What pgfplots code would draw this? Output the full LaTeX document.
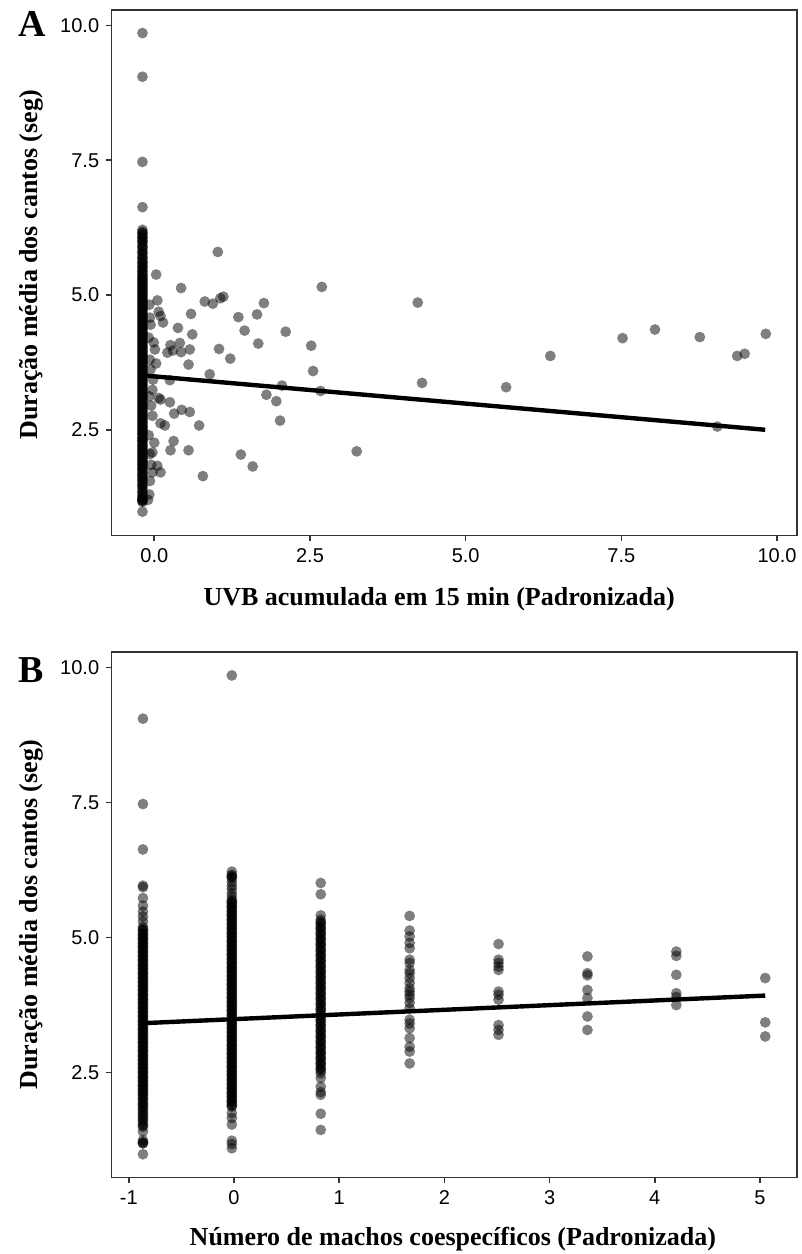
\documentclass[border=0pt]{standalone}
\usepackage{fontspec}
\setmainfont{Liberation Serif}
\newfontfamily\ticksans{Liberation Sans}
\usepackage{pgfplots}
\pgfplotsset{compat=1.18}
\definecolor{axgray}{HTML}{333333}
\newcommand{\labfont}{\fontsize{13}{15}\selectfont\bfseries}
\pgfplotsset{
  panel/.style={
    anchor=south west, scale only axis, width=342.5pt, height=262.9pt,
    axis line style={axgray, line width=0.8pt},
    tick style={axgray, line width=0.8pt},
    tick align=outside, tick pos=left, major tick length=2.75pt,
    tick label style={font=\fontsize{10}{12}\selectfont\ticksans, text=black},
    ytick={2.5,5,7.5,10}, yticklabels={2.5,5.0,7.5,10.0},
    every axis y label/.style={at={(axis description cs:0,0.5)}, xshift=-40pt, rotate=90, anchor=center, font=\labfont},
  },
  pts/.style={only marks, mark=*, mark size=2.7pt, mark options={fill=black, fill opacity=0.5, draw opacity=0, line width=0pt}},
}
\begin{document}
\begin{tikzpicture}
\useasboundingbox (0,0) rectangle (401pt,627pt);
\node[anchor=base west, inner sep=0pt, font=\fontsize{19}{21}\selectfont\bfseries] at (9pt,608.5pt) {A};
\node[anchor=base west, inner sep=0pt, font=\fontsize{19}{21}\selectfont\bfseries] at (9pt,285.5pt) {B};
% ---------------- Panel A ----------------
\begin{axis}[panel, at={(55.85pt,359.15pt)},
  xmin=-0.684, xmax=10.316, ymin=0.535, ymax=10.29,
  xtick={0,2.5,5,7.5,10}, xticklabels={0.0,2.5,5.0,7.5,10.0},
  every axis y label/.append style={at={(axis description cs:0,0.515)}},
  xlabel={UVB acumulada em 15 min (Padronizada)},
  ylabel={Duração média dos cantos (seg)},
  every axis x label/.style={at={(axis description cs:0.478,0)}, yshift=-34.7pt, anchor=base, font=\labfont},
]
\addplot[pts] coordinates {
(-0.19,0.98)(-0.19,1.16)(-0.19,1.18)(-0.19,1.20)(-0.19,1.22)(-0.19,1.27)(-0.19,1.31)(-0.19,1.36)(-0.19,1.41)(-0.19,1.44)
(-0.19,1.49)(-0.19,1.53)(-0.19,1.56)(-0.19,1.61)(-0.19,1.64)(-0.19,1.68)(-0.19,1.71)(-0.19,1.75)(-0.19,1.79)(-0.19,1.82)
(-0.19,1.86)(-0.19,1.89)(-0.19,1.93)(-0.19,1.96)(-0.19,2.00)(-0.19,2.03)(-0.19,2.07)(-0.19,2.09)(-0.19,2.12)(-0.19,2.16)
(-0.19,2.19)(-0.19,2.23)(-0.19,2.27)(-0.19,2.30)(-0.19,2.33)(-0.19,2.37)(-0.19,2.41)(-0.19,2.44)(-0.19,2.47)(-0.19,2.51)
(-0.19,2.54)(-0.19,2.58)(-0.19,2.61)(-0.19,2.65)(-0.19,2.68)(-0.19,2.72)(-0.19,2.75)(-0.19,2.79)(-0.19,2.82)(-0.19,2.86)
(-0.19,2.89)(-0.19,2.93)(-0.19,2.96)(-0.19,3.00)(-0.19,3.03)(-0.19,3.07)(-0.19,3.10)(-0.19,3.14)(-0.19,3.17)(-0.19,3.21)
(-0.19,3.24)(-0.19,3.28)(-0.19,3.31)(-0.19,3.35)(-0.19,3.38)(-0.19,3.42)(-0.19,3.45)(-0.19,3.49)(-0.19,3.52)(-0.19,3.56)
(-0.19,3.59)(-0.19,3.63)(-0.19,3.66)(-0.19,3.70)(-0.19,3.73)(-0.19,3.77)(-0.19,3.80)(-0.19,3.84)(-0.19,3.87)(-0.19,3.91)
(-0.19,3.94)(-0.19,3.98)(-0.19,4.01)(-0.19,4.05)(-0.19,4.08)(-0.19,4.12)(-0.19,4.15)(-0.19,4.19)(-0.19,4.22)(-0.19,4.26)
(-0.19,4.29)(-0.19,4.33)(-0.19,4.36)(-0.19,4.40)(-0.19,4.43)(-0.19,4.47)(-0.19,4.50)(-0.19,4.54)(-0.19,4.57)(-0.19,4.61)
(-0.19,4.64)(-0.19,4.68)(-0.19,4.71)(-0.19,4.75)(-0.19,4.78)(-0.19,4.82)(-0.19,4.85)(-0.19,4.89)(-0.19,4.92)(-0.19,4.96)
(-0.19,4.99)(-0.19,5.03)(-0.19,5.06)(-0.19,5.10)(-0.19,5.13)(-0.19,5.17)(-0.19,5.20)(-0.19,5.24)(-0.19,5.27)(-0.19,5.31)
(-0.19,5.34)(-0.19,5.38)(-0.19,5.42)(-0.19,5.46)(-0.19,5.50)(-0.19,5.54)(-0.19,5.58)(-0.19,5.62)(-0.19,5.67)(-0.19,5.72)
(-0.19,5.77)(-0.19,5.82)(-0.19,5.87)(-0.19,5.92)(-0.19,5.97)(-0.19,6.01)(-0.19,6.05)(-0.19,6.09)(-0.19,6.13)(-0.19,6.17)
(-0.19,6.21)(-0.19,6.63)(-0.19,7.47)(-0.19,9.05)(-0.19,9.86)
(-0.08,4.82)(-0.07,4.58)(-0.06,4.45)(-0.09,4.21)(-0.07,3.80)(-0.06,3.62)(-0.08,3.12)(-0.05,2.95)(-0.09,2.40)(-0.07,2.05)(-0.05,1.85)(-0.08,1.30)
(0.43,5.13)(2.69,5.15)(0.05,4.90)(0.81,4.88)(0.94,4.84)(1.06,4.94)(1.11,4.97)(1.76,4.85)(0.07,4.69)(0.10,4.61)
(0.14,4.49)(0.59,4.65)(1.35,4.59)(1.65,4.64)(0.38,4.39)(0.61,4.27)(1.45,4.34)(2.11,4.32)(-0.01,4.12)(0.01,3.99)
(0.26,4.07)(0.21,3.93)(0.30,3.97)(0.41,4.11)(0.43,3.94)(0.57,3.99)(1.04,4.00)(1.67,4.10)(2.52,4.06)(1.22,3.82)
(0.03,3.73)(0.55,3.71)(2.55,3.59)(0.89,3.53)(0.25,3.42)(-0.02,3.43)(2.05,3.32)(2.67,3.22)(-0.03,3.24)(0.07,3.09)
(0.10,3.06)(0.25,3.01)(1.80,3.15)(1.96,3.03)(0.44,2.87)(0.32,2.80)(0.57,2.83)(-0.03,2.76)(0.10,2.62)(0.17,2.58)
(2.02,2.67)(0.72,2.58)(0.00,2.26)(0.31,2.29)(0.26,2.12)(-0.03,2.08)(0.55,2.12)(3.25,2.10)(1.39,2.04)(1.58,1.82)
(0.05,1.83)(0.10,1.71)(-0.03,1.71)(0.78,1.64)(-0.07,1.55)(-0.10,1.20)(0.03,5.38)(1.02,5.80)
(4.23,4.86)(4.30,3.37)(5.65,3.29)(6.36,3.87)(7.52,4.20)(8.04,4.36)(8.76,4.22)(9.04,2.56)(9.36,3.87)(9.48,3.91)(9.82,4.28)
};
\addplot[pts] coordinates {
(-0.19,1.19)(-0.19,1.25)(-0.19,1.34)(-0.19,1.47)(-0.19,1.58)(-0.19,1.66)(-0.19,1.77)(-0.19,1.84)(-0.19,1.91)(-0.19,1.98)
(-0.19,2.05)(-0.19,2.14)(-0.19,2.21)(-0.19,2.29)(-0.19,2.35)(-0.19,2.43)(-0.19,2.50)(-0.19,2.56)(-0.19,2.63)(-0.19,2.70)
(-0.19,2.77)(-0.19,2.84)(-0.19,2.91)(-0.19,2.98)(-0.19,3.05)(-0.19,3.12)(-0.19,3.19)(-0.19,3.26)(-0.19,3.33)(-0.19,3.40)
(-0.19,3.47)(-0.19,3.54)(-0.19,3.61)(-0.19,3.68)(-0.19,3.75)(-0.19,3.82)(-0.19,3.89)(-0.19,3.96)(-0.19,4.03)(-0.19,4.10)
(-0.19,4.17)(-0.19,4.24)(-0.19,4.31)(-0.19,4.38)(-0.19,4.45)(-0.19,4.52)(-0.19,4.59)(-0.19,4.66)(-0.19,4.73)(-0.19,4.80)
(-0.19,4.87)(-0.19,4.94)(-0.19,5.01)(-0.19,5.08)(-0.19,5.15)(-0.19,5.22)(-0.19,5.29)(-0.19,5.36)(-0.19,5.44)(-0.19,5.52)
(-0.19,5.60)(-0.19,5.69)(-0.19,5.79)(-0.19,5.89)(-0.19,5.99)(-0.19,6.07)(-0.19,6.15)
};
\addplot[black, line width=2.2pt] coordinates {(-0.19,3.51) (9.81,2.50)};
\end{axis}
% ---------------- Panel B ----------------
\begin{axis}[panel, at={(55.85pt,38.15pt)},
  xmin=-1.162, xmax=5.349, ymin=0.556, ymax=10.285,
  xtick={-1,0,1,2,3,4,5}, xticklabels={-1,0,1,2,3,4,5},
  xlabel={Número de machos coespecíficos (Padronizada)},
  ylabel={Duração média dos cantos (seg)},
  every axis x label/.style={at={(axis description cs:0.498,0)}, yshift=-33.7pt, anchor=base, font=\labfont},
]
\addplot[pts] coordinates {
(-0.865,0.99)(-0.865,1.19)(-0.865,1.21)(-0.865,1.25)(-0.865,1.41)(-0.865,1.50)(-0.865,1.55)(-0.865,1.60)(-0.865,1.66)(-0.865,1.70)
(-0.865,1.76)(-0.865,1.80)(-0.865,1.86)(-0.865,1.90)(-0.865,1.95)(-0.865,1.99)(-0.865,2.04)(-0.865,2.08)(-0.865,2.12)(-0.865,2.16)
(-0.865,2.20)(-0.865,2.24)(-0.865,2.28)(-0.865,2.32)(-0.865,2.36)(-0.865,2.40)(-0.865,2.44)(-0.865,2.48)(-0.865,2.52)(-0.865,2.56)
(-0.865,2.60)(-0.865,2.64)(-0.865,2.68)(-0.865,2.72)(-0.865,2.76)(-0.865,2.80)(-0.865,2.84)(-0.865,2.88)(-0.865,2.92)(-0.865,2.96)
(-0.865,3.00)(-0.865,3.04)(-0.865,3.08)(-0.865,3.12)(-0.865,3.16)(-0.865,3.20)(-0.865,3.24)(-0.865,3.28)(-0.865,3.32)(-0.865,3.36)
(-0.865,3.40)(-0.865,3.44)(-0.865,3.48)(-0.865,3.52)(-0.865,3.56)(-0.865,3.60)(-0.865,3.64)(-0.865,3.68)(-0.865,3.72)(-0.865,3.76)
(-0.865,3.80)(-0.865,3.84)(-0.865,3.88)(-0.865,3.92)(-0.865,3.96)(-0.865,4.00)(-0.865,4.04)(-0.865,4.08)(-0.865,4.12)(-0.865,4.16)
(-0.865,4.20)(-0.865,4.24)(-0.865,4.28)(-0.865,4.32)(-0.865,4.36)(-0.865,4.40)(-0.865,4.44)(-0.865,4.48)(-0.865,4.52)(-0.865,4.56)
(-0.865,4.60)(-0.865,4.64)(-0.865,4.68)(-0.865,4.72)(-0.865,4.76)(-0.865,4.80)(-0.865,4.84)(-0.865,4.88)(-0.865,4.92)(-0.865,4.96)
(-0.865,5.00)(-0.865,5.04)(-0.865,5.08)(-0.865,5.12)(-0.865,5.16)(-0.865,5.20)(-0.865,5.30)(-0.865,5.39)(-0.865,5.48)(-0.865,5.59)
(-0.865,5.73)(-0.865,5.93)(-0.865,5.96)(-0.865,6.63)(-0.865,7.47)(-0.865,9.05)
(-0.02,1.10)(-0.02,1.18)(-0.02,1.24)(-0.02,1.54)(-0.02,1.66)(-0.02,1.75)(-0.02,1.87)(-0.02,1.91)(-0.02,1.95)(-0.02,1.99)
(-0.02,2.03)(-0.02,2.07)(-0.02,2.11)(-0.02,2.15)(-0.02,2.19)(-0.02,2.23)(-0.02,2.27)(-0.02,2.31)(-0.02,2.35)(-0.02,2.39)
(-0.02,2.43)(-0.02,2.47)(-0.02,2.51)(-0.02,2.55)(-0.02,2.59)(-0.02,2.63)(-0.02,2.67)(-0.02,2.71)(-0.02,2.75)(-0.02,2.79)
(-0.02,2.83)(-0.02,2.87)(-0.02,2.91)(-0.02,2.95)(-0.02,2.99)(-0.02,3.03)(-0.02,3.07)(-0.02,3.11)(-0.02,3.15)(-0.02,3.19)
(-0.02,3.23)(-0.02,3.27)(-0.02,3.31)(-0.02,3.35)(-0.02,3.39)(-0.02,3.43)(-0.02,3.47)(-0.02,3.51)(-0.02,3.55)(-0.02,3.59)
(-0.02,3.63)(-0.02,3.67)(-0.02,3.71)(-0.02,3.75)(-0.02,3.79)(-0.02,3.83)(-0.02,3.87)(-0.02,3.91)(-0.02,3.95)(-0.02,3.99)
(-0.02,4.03)(-0.02,4.07)(-0.02,4.11)(-0.02,4.15)(-0.02,4.19)(-0.02,4.23)(-0.02,4.27)(-0.02,4.31)(-0.02,4.35)(-0.02,4.39)
(-0.02,4.43)(-0.02,4.47)(-0.02,4.51)(-0.02,4.55)(-0.02,4.59)(-0.02,4.63)(-0.02,4.67)(-0.02,4.71)(-0.02,4.75)(-0.02,4.79)
(-0.02,4.83)(-0.02,4.87)(-0.02,4.91)(-0.02,4.95)(-0.02,4.99)(-0.02,5.03)(-0.02,5.07)(-0.02,5.11)(-0.02,5.15)(-0.02,5.19)
(-0.02,5.23)(-0.02,5.27)(-0.02,5.31)(-0.02,5.35)(-0.02,5.39)(-0.02,5.43)(-0.02,5.47)(-0.02,5.51)(-0.02,5.55)(-0.02,5.59)
(-0.02,5.63)(-0.02,5.67)(-0.02,5.70)(-0.02,5.76)(-0.02,5.82)(-0.02,5.90)(-0.02,5.96)(-0.02,6.03)(-0.02,6.10)(-0.02,6.14)
(-0.02,6.22)(-0.02,9.85)
(0.825,1.44)(0.825,1.74)(0.825,2.09)(0.825,2.14)(0.825,2.24)(0.825,2.40)(0.825,2.49)(0.825,2.54)(0.825,2.59)(0.825,2.64)
(0.825,2.69)(0.825,2.74)(0.825,2.79)(0.825,2.84)(0.825,2.89)(0.825,2.94)(0.825,2.99)(0.825,3.04)(0.825,3.09)(0.825,3.14)
(0.825,3.19)(0.825,3.24)(0.825,3.29)(0.825,3.34)(0.825,3.39)(0.825,3.44)(0.825,3.49)(0.825,3.54)(0.825,3.59)(0.825,3.64)
(0.825,3.69)(0.825,3.74)(0.825,3.79)(0.825,3.84)(0.825,3.89)(0.825,3.94)(0.825,3.99)(0.825,4.04)(0.825,4.09)(0.825,4.14)
(0.825,4.19)(0.825,4.24)(0.825,4.29)(0.825,4.34)(0.825,4.39)(0.825,4.44)(0.825,4.49)(0.825,4.54)(0.825,4.59)(0.825,4.64)
(0.825,4.69)(0.825,4.74)(0.825,4.79)(0.825,4.84)(0.825,4.89)(0.825,4.94)(0.825,4.99)(0.825,5.04)(0.825,5.09)(0.825,5.14)
(0.825,5.19)(0.825,5.24)(0.825,5.29)(0.825,5.33)(0.825,5.41)(0.825,5.80)(0.825,6.01)
(1.67,5.40)(1.67,5.13)(1.67,5.02)(1.67,4.90)(1.67,4.80)(1.67,4.59)(1.67,4.53)(1.67,4.40)(1.67,4.34)(1.67,4.25)
(1.67,4.16)(1.67,4.06)(1.67,4.00)(1.67,3.94)(1.67,3.88)(1.67,3.79)(1.67,3.69)(1.67,3.48)(1.67,3.41)(1.67,3.32)
(1.67,3.14)(1.67,2.98)(1.67,2.89)(1.67,2.67)
(2.515,4.88)(2.515,4.59)(2.515,4.53)(2.515,4.46)(2.515,4.40)(2.515,4.00)(2.515,3.94)(2.515,3.85)(2.515,3.38)(2.515,3.29)(2.515,3.20)
(3.36,4.65)(3.36,4.34)(3.36,4.30)(3.36,4.03)(3.36,3.88)(3.36,3.54)(3.36,3.29)
(4.205,4.74)(4.205,4.66)(4.205,4.31)(4.205,3.97)(4.205,3.90)(4.205,3.75)
(5.05,4.25)(5.05,3.43)(5.05,3.17)
};
\addplot[pts] coordinates {
(-0.865,1.20)(-0.865,1.52)(-0.865,1.63)(-0.865,1.73)(-0.865,1.83)(-0.865,1.92)(-0.865,2.02)(-0.865,2.10)(-0.865,2.18)(-0.865,2.26)
(-0.865,2.34)(-0.865,2.42)(-0.865,2.50)(-0.865,2.58)(-0.865,2.66)(-0.865,2.74)(-0.865,2.82)(-0.865,2.90)(-0.865,2.98)(-0.865,3.06)
(-0.865,3.14)(-0.865,3.22)(-0.865,3.30)(-0.865,3.38)(-0.865,3.46)(-0.865,3.54)(-0.865,3.62)(-0.865,3.70)(-0.865,3.78)(-0.865,3.86)
(-0.865,3.94)(-0.865,4.02)(-0.865,4.10)(-0.865,4.18)(-0.865,4.26)(-0.865,4.34)(-0.865,4.42)(-0.865,4.50)(-0.865,4.58)(-0.865,4.66)
(-0.865,4.74)(-0.865,4.82)(-0.865,4.90)(-0.865,4.98)(-0.865,5.06)(-0.865,5.14)
(-0.02,1.89)(-0.02,1.97)(-0.02,2.05)(-0.02,2.13)(-0.02,2.21)(-0.02,2.29)(-0.02,2.37)(-0.02,2.45)(-0.02,2.53)(-0.02,2.61)
(-0.02,2.69)(-0.02,2.77)(-0.02,2.85)(-0.02,2.93)(-0.02,3.01)(-0.02,3.09)(-0.02,3.17)(-0.02,3.25)(-0.02,3.33)(-0.02,3.41)
(-0.02,3.49)(-0.02,3.57)(-0.02,3.65)(-0.02,3.73)(-0.02,3.81)(-0.02,3.89)(-0.02,3.97)(-0.02,4.05)(-0.02,4.13)(-0.02,4.21)
(-0.02,4.29)(-0.02,4.37)(-0.02,4.45)(-0.02,4.53)(-0.02,4.61)(-0.02,4.69)(-0.02,4.77)(-0.02,4.85)(-0.02,4.93)(-0.02,5.01)
(-0.02,5.09)(-0.02,5.17)(-0.02,5.25)(-0.02,5.33)(-0.02,5.41)(-0.02,5.49)(-0.02,5.57)(-0.02,5.65)(-0.02,6.12)(-0.02,6.16)
(0.825,2.57)(0.825,2.67)(0.825,2.77)(0.825,2.87)(0.825,2.97)(0.825,3.07)(0.825,3.17)(0.825,3.27)(0.825,3.37)(0.825,3.47)
(0.825,3.57)(0.825,3.67)(0.825,3.77)(0.825,3.87)(0.825,3.97)(0.825,4.07)(0.825,4.17)(0.825,4.27)(0.825,4.37)(0.825,4.47)
(0.825,4.57)(0.825,4.67)(0.825,4.77)(0.825,4.87)(0.825,4.97)(0.825,5.07)(0.825,5.17)(0.825,5.27)
};
\addplot[black, line width=2.2pt] coordinates {(-0.865,3.415) (5.05,3.926)};
\end{axis}
\end{tikzpicture}
\end{document}
